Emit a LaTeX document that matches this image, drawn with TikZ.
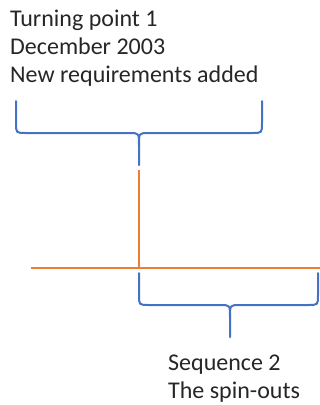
\documentclass[tikz,border=0pt]{standalone}
\usepackage{fontspec}
\setmainfont{Carlito}
\usetikzlibrary{calc}

\begin{document}
\begin{tikzpicture}[x=1pt, y=-1pt,
	brace/.style={draw=braceblue, line width=2pt, line cap=round},
	axis/.style={draw=lineorange, line width=2.2pt},
	label/.style={anchor=base west, inner sep=0pt, align=left,
		font=\fontsize{24}{27.8}\selectfont, text=black!85}]
	\definecolor{braceblue}{RGB}{68,114,196}
	\definecolor{lineorange}{RGB}{237,125,49}
	\useasboundingbox (0,0) rectangle (320,405);

	\node (turn) [label] at (10,82) {Turning point 1\\December 2003\\New requirements added};
	\node (seq) [label] at (168,398) {Sequence 2\\The spin-outs};

	\coordinate (T1) at (16,101);
	\coordinate (T2) at (262,101);
	\coordinate (Ttip) at (139,165);

	\coordinate (cross) at (139,268);
	\coordinate (up) at (139,170);
	\coordinate (west) at (31,268);
	\coordinate (east) at (320,268);

	\coordinate (B1) at (139,273);
	\coordinate (B2) at (318,273);
	\coordinate (Btip) at (230,337);

	% top brace
	\draw [brace] (T1) -- ($(T1)+(0,22)$) .. controls ($(T1)+(0,32)$) .. ($(T1)+(10,32)$)
		-- ($(Ttip)+(-10,-32)$) .. controls ($(Ttip)+(0,-32)$) .. ($(Ttip)+(0,-20)$) -- (Ttip);
	\draw [brace] (T2) -- ($(T2)+(0,22)$) .. controls ($(T2)+(0,32)$) .. ($(T2)+(-10,32)$)
		-- ($(Ttip)+(10,-32)$) .. controls ($(Ttip)+(0,-32)$) .. ($(Ttip)+(0,-20)$);

	% time line
	\draw [axis] (west) -- (east);
	\draw [axis] (up) -- (cross);

	% bottom brace
	\draw [brace] (B1) -- ($(B1)+(0,22)$) .. controls ($(B1)+(0,32)$) .. ($(B1)+(10,32)$)
		-- ($(Btip)+(-10,-32)$) .. controls ($(Btip)+(0,-32)$) .. ($(Btip)+(0,-20)$) -- (Btip);
	\draw [brace] (B2) -- ($(B2)+(0,22)$) .. controls ($(B2)+(0,32)$) .. ($(B2)+(-10,32)$)
		-- ($(Btip)+(10,-32)$) .. controls ($(Btip)+(0,-32)$) .. ($(Btip)+(0,-20)$);
\end{tikzpicture}
\end{document}
